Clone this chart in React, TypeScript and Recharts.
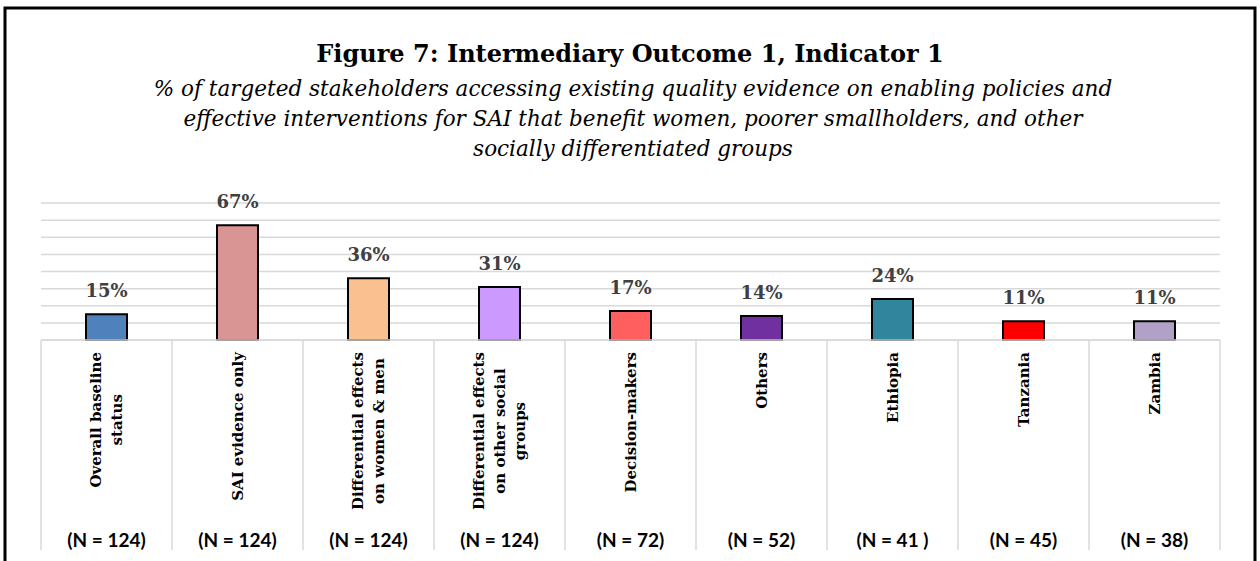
import { BarChart, Bar, XAxis, YAxis, CartesianGrid, LabelList, Cell } from 'recharts';

const categories = [
  'Overall baseline status',
  'SAI evidence only',
  'Differential effects on women & men',
  'Differential effects on other social groups',
  'Decision-makers',
  'Others',
  'Ethiopia',
  'Tanzania',
  'Zambia',
];
const categoryLines = [
  ['Overall baseline', 'status'],
  ['SAI evidence only'],
  ['Differential effects', 'on women & men'],
  ['Differential effects', 'on other social', 'groups'],
  ['Decision-makers'],
  ['Others'],
  ['Ethiopia'],
  ['Tanzania'],
  ['Zambia'],
];
const percentages = [15, 67, 36, 31, 17, 14, 24, 11, 11];
const sampleSizes = ['(N = 124)', '(N = 124)', '(N = 124)', '(N = 124)', '(N = 72)', '(N = 52)', '(N = 41 )', '(N = 45)', '(N = 38)'];
const barColors = ['#4F81BD', '#D99594', '#FAC090', '#CC99FF', '#FF5F5F', '#7030A0', '#31859C', '#FF0000', '#B2A1C7'];
const yTicks = [0, 10, 20, 30, 40, 50, 60, 70, 80];

const title = 'Figure 7: Intermediary Outcome 1, Indicator 1';
const subtitleLines = [
  '% of targeted stakeholders accessing existing quality evidence on enabling policies and',
  'effective interventions for SAI that benefit women, poorer smallholders, and other',
  'socially differentiated groups',
];

const chartData = categories.map((name, i) => ({ name, value: percentages[i] }));

const SERIF = '"DejaVu Serif", serif';
const LABEL_SIZE = 15;
const LABEL_FONT = `bold ${LABEL_SIZE}px ${SERIF}`;

let ctx: CanvasRenderingContext2D | null = null;
function textWidth(s: string, font: string) {
  if (!ctx) ctx = document.createElement('canvas').getContext('2d');
  if (!ctx) return s.length * 8;
  ctx.font = font;
  return ctx.measureText(s).width;
}

function CategoryTick(props: any) {
  const { x, y, payload, index, visibleTicksCount } = props;
  const half = payload && payload.offset ? payload.offset : 65.5;
  const lines = categoryLines[index] || [];
  const widths = lines.map((l) => textWidth(l, LABEL_FONT));
  const blockW = Math.max(...widths, 0);
  const top = y + 12;
  const midY = top + blockW / 2;
  const gap = 20.5;
  return (
    <g>
      <line x1={x - half} x2={x - half} y1={y} y2={y + 210} stroke="#d9d9d9" strokeWidth={1.5} />
      {index === visibleTicksCount - 1 && (
        <line x1={x + half} x2={x + half} y1={y} y2={y + 210} stroke="#d9d9d9" strokeWidth={1.5} />
      )}
      {lines.map((l, i) => {
        const lx = x + (i - (lines.length - 1) / 2) * gap;
        return (
          <text
            key={i}
            x={lx}
            y={midY}
            transform={`rotate(-90 ${lx} ${midY})`}
            textAnchor="middle"
            dy="0.35em"
            fontFamily={SERIF}
            fontWeight="bold"
            fontSize={LABEL_SIZE}
            fill="#000"
          >
            {l}
          </text>
        );
      })}
      <text x={x} y={y + 207} textAnchor="middle" fontFamily="Lato, sans-serif" fontWeight="bold" fontSize={19} fill="#000">
        {sampleSizes[index]}
      </text>
    </g>
  );
}

export default function App() {
  return (
    <div style={{ position: 'absolute', left: 0, top: 0, width: 1260, height: 561, background: '#fff', overflow: 'hidden' }}>
      <svg width={1260} height={561} style={{ position: 'absolute', left: 0, top: 0 }}>
        <rect x={5} y={8} width={1250} height={600} fill="none" stroke="#000" strokeWidth={3} />
        <text x={630} y={62} textAnchor="middle" fontFamily={SERIF} fontWeight="bold" fontSize={24} fill="#000">
          {title}
        </text>
        {subtitleLines.map((l, i) => (
          <text key={i} x={633} y={96 + i * 30} textAnchor="middle" fontFamily={SERIF} fontStyle="italic" fontSize={21.5} fill="#000">
            {l}
          </text>
        ))}
      </svg>
      <div style={{ position: 'absolute', left: 0, top: 0 }}>
        <BarChart width={1260} height={561} data={chartData} margin={{ top: 203, right: 40, left: 41, bottom: 0 }}>
          <CartesianGrid vertical={false} stroke="#d9d9d9" strokeWidth={1.5} />
          <YAxis hide domain={[0, 80]} ticks={yTicks} interval={0} />
          <XAxis
            dataKey="name"
            height={221}
            interval={0}
            tickLine={false}
            tickSize={0}
            tickMargin={0}
            axisLine={{ stroke: '#d9d9d9', strokeWidth: 1.5 }}
            tick={<CategoryTick />}
          />
          <Bar dataKey="value" barSize={41} stroke="#000" strokeWidth={2} isAnimationActive={false}>
            {chartData.map((d, i) => (
              <Cell key={d.name} fill={barColors[i]} />
            ))}
            <LabelList
              dataKey="value"
              position="top"
              offset={17}
              formatter={(v: any) => `${v}%`}
              fill="#404040"
              fontFamily={SERIF}
              fontWeight="bold"
              fontSize={18}
            />
          </Bar>
        </BarChart>
      </div>
    </div>
  );
}
